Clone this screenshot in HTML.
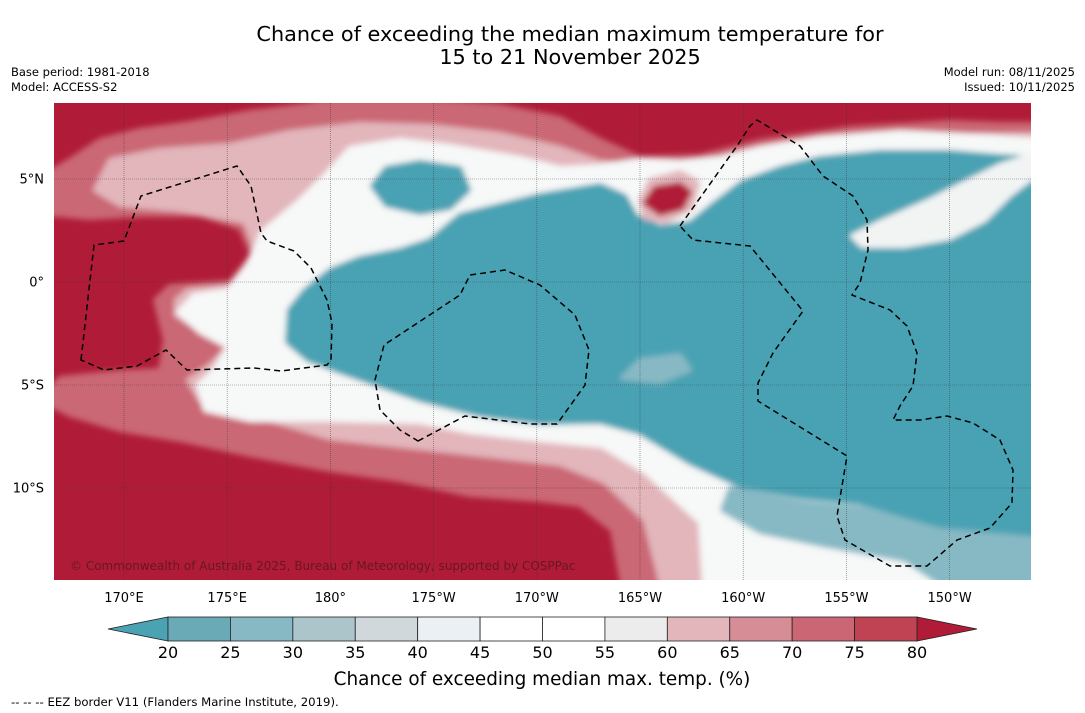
<!DOCTYPE html>
<html><head><meta charset="utf-8"><style>
html,body{margin:0;padding:0;background:#fff;}
svg{display:block;font-family:"DejaVu Sans","Liberation Sans",sans-serif;}
</style></head><body>
<svg id="chart" width="1085" height="713" viewBox="0 0 1085 713" xmlns="http://www.w3.org/2000/svg">
<defs>
<clipPath id="plotclip"><rect x="54" y="103" width="977" height="477"/></clipPath>
<filter id="soft" x="-5%" y="-5%" width="110%" height="110%"><feGaussianBlur stdDeviation="3"/></filter>
</defs>
<text x="570" y="41" font-size="20.8" text-anchor="middle" fill="#000">Chance of exceeding the median maximum temperature for</text>
<text x="570" y="64" font-size="20.8" text-anchor="middle" fill="#000">15 to 21 November 2025</text>
<text x="11" y="76" font-size="11.5">Base period: 1981-2018</text>
<text x="11" y="91" font-size="11.5">Model: ACCESS-S2</text>
<text x="1075" y="76" font-size="11.5" text-anchor="end">Model run: 08/11/2025</text>
<text x="1075" y="91" font-size="11.5" text-anchor="end">Issued: 10/11/2025</text>
<g id="map" clip-path="url(#plotclip)"></g>
<g id="axes"></g>
<g id="cbar"></g>
<text x="542" y="685" font-size="18.4" text-anchor="middle">Chance of exceeding median max. temp. (%)</text>
<text x="11" y="706" font-size="11.7">--  --  -- EEZ border V11 (Flanders Marine Institute, 2019).</text>
</svg>
<script>
// colorbar data
const levels = [20,25,30,35,40,45,50,55,60,65,70,75,80];
const binColors = ["#6aa9b6","#87b9c4","#abc5cb","#d0d8db","#eaf0f3","#ffffff","#ffffff","#ececec","#e2b6bb","#d78d95","#cb6774","#bf4353"];
const underColor = "#4aa2b3", overColor = "#b01c38";
// axis ticks
const lonTicks = [170,175,180,185,190,195,200,205,210];
const lonLabels = ["170°E","175°E","180°","175°W","170°W","165°W","160°W","155°W","150°W"];
const latTicks = [5,0,-5,-10];
const latLabels = ["5°N","0°","5°S","10°S"];

const NS="http://www.w3.org/2000/svg";
const X0=54,X1=1031,Y0=103,Y1=580;
function lonX(l){return 124+(l-170)*20.64;}
function latY(l){return 282-l*20.6;}
function mk(tag,attrs,parent){const e=document.createElementNS(NS,tag);for(const k in attrs)e.setAttribute(k,attrs[k]);parent.appendChild(e);return e;}
function poly(pts){return 'M'+pts.map(q=>q.join(',')).join('L')+'Z';}
// contour geometry (pixels)
const shapeP75=[[40,215],[40,178],[70,160],[100,140],[140,130],[190,123],[250,112],[300,106],[330,100],[420,100],[500,106],[560,118],[600,140],[640,158],[700,156],[760,141],[850,128],[950,122],[1000,124],[1040,124],[1045,600],[625,600],[612,530],[580,505],[540,500],[470,495],[400,480],[330,470],[250,455],[180,440],[120,430],[70,415],[40,400],[60,378],[120,372],[160,370],[165,340],[155,300],[170,286],[230,282],[252,255],[240,228],[200,215],[140,215],[90,218],[60,215]];
const shapeP65=[[95,190],[110,160],[160,150],[230,145],[290,132],[360,124],[430,126],[500,134],[560,148],[600,162],[650,168],[720,160],[860,138],[1040,134],[1045,600],[665,600],[645,520],[605,482],[560,464],[500,457],[420,448],[330,438],[250,414],[200,400],[188,380],[210,365],[230,345],[200,330],[176,315],[176,300],[188,290],[235,286],[255,250],[245,222],[180,210],[120,205]];
const shapeW=[[178,312],[194,295],[228,290],[248,265],[262,232],[300,200],[328,172],[350,148],[400,140],[450,146],[520,158],[560,168],[600,166],[640,160],[680,162],[720,158],[760,148],[820,138],[900,132],[980,136],[1040,140],[1045,600],[705,600],[700,522],[645,472],[602,446],[540,440],[470,432],[420,422],[330,420],[250,420],[205,410],[198,385],[214,370],[228,347],[200,332]];
const shapeLT=[[730,488],[800,502],[862,508],[942,530],[1040,538],[1045,600],[965,600],[905,560],[822,545],[760,532],[722,510]];
const shapeT=[[287,342],[289,310],[305,290],[330,270],[360,258],[400,250],[430,240],[460,215],[500,205],[540,195],[600,185],[625,196],[636,216],[660,227],[690,223],[712,205],[742,182],[780,168],[820,158],[880,152],[950,152],[1000,156],[1040,158],[1040,535],[940,526],[860,503],[800,497],[740,486],[690,463],[640,433],[600,422],[540,423],[480,415],[420,400],[380,386],[340,372],[308,360]];
const shapeBlob=[[372,186],[386,168],[420,162],[460,168],[469,190],[450,208],[420,213],[386,205]];
const shapeArm=[[852,236],[880,222],[930,200],[970,180],[1000,165],[1040,152],[1040,172],[1010,195],[985,220],[950,238],[905,246],[862,246]];
const shapeRedBlobRing=[[640,200],[650,180],[680,172],[698,182],[692,208],[665,222],[645,218]];
const shapeRedBlob=[[645,203],[655,188],[680,184],[690,192],[682,208],[660,214]];
const shapeLowLT=[[622,378],[640,360],[680,355],[690,370],[660,382]];
const eezPaths=[
 [[81,360],[94,245],[124,241],[141,196],[237,166],[251,186],[261,233],[267,241],[294,251],[311,268],[327,300],[332,323],[331,360],[327,365],[281,371],[254,368],[187,370],[166,350],[137,366],[104,370]],
 [[418,441],[465,416],[530,424],[557,424],[585,385],[589,350],[575,315],[540,285],[505,270],[470,275],[460,295],[384,345],[375,380],[380,410],[400,430]],
 [[680,226],[737,146],[750,126],[757,120],[800,146],[823,176],[853,196],[867,220],[868,250],[860,283],[852,295],[890,310],[907,326],[917,353],[913,386],[900,406],[893,420],[920,420],[947,416],[973,423],[1000,440],[1013,470],[1012,503],[990,528],[957,540],[927,566],[890,566],[845,540],[837,516],[847,456],[758,401],[758,383],[773,353],[803,311],[750,246],[693,240]]
];
const map=document.getElementById('map');
const bg=mk('rect',{x:X0,y:Y0,width:X1-X0,height:Y1-Y0,fill:overColor},map);


const fg=mk('g',{filter:'url(#soft)'},map);


const layers=[[shapeP75,binColors[10],'contour-70-75'],[shapeP65,binColors[8],'contour-60-70'],[shapeW,"#f7f8f8",'contour-40-60'],[shapeLT,binColors[1],'contour-25-35'],[shapeT,underColor,'contour-below-20'],[shapeBlob,underColor,'contour-blob-north'],[shapeArm,"#f2f4f4",'contour-arm'],[shapeRedBlobRing,binColors[8],'contour-pink-ring'],[shapeRedBlob,overColor,'contour-red-blob'],[shapeLowLT,binColors[1],'contour-light-teal-patch']];
layers.forEach(l=>{const p=mk('path',{d:poly(l[0]),fill:l[1],stroke:l[1],'stroke-width':4,'stroke-linejoin':'round'},fg);
 
 });
// grid
lonTicks.forEach(t=>{const g=mk('line',{x1:lonX(t),x2:lonX(t),y1:Y0,y2:Y1,stroke:'#333','stroke-width':0.6,'stroke-dasharray':'1,1','stroke-opacity':0.7},map);
 
 });
latTicks.forEach(t=>{const g=mk('line',{x1:X0,x2:X1,y1:latY(t),y2:latY(t),stroke:'#333','stroke-width':0.6,'stroke-dasharray':'1,1','stroke-opacity':0.7},map);
 
 });
eezPaths.forEach(ps=>{const p=mk('path',{d:poly(ps),fill:'none',stroke:'#000','stroke-width':1.5,'stroke-dasharray':'6,4'},map);
 
 });
const cp=mk('text',{x:70,y:570,'font-size':12,fill:'#5a1520','fill-opacity':0.85},map);


cp.textContent='© Commonwealth of Australia 2025, Bureau of Meteorology, supported by COSPPac';
// axes labels
const axes=document.getElementById('axes');
lonTicks.forEach((t,i)=>{const e=mk('text',{x:lonX(t),y:602,'font-size':13,'text-anchor':'middle'},axes);
 
 
 e.textContent=lonLabels[i];});
latTicks.forEach((t,i)=>{const e=mk('text',{x:44,y:latY(t)+4.5,'font-size':13,'text-anchor':'end'},axes);
 
 
 e.textContent=latLabels[i];});
// colorbar
const cb=document.getElementById('cbar');
const CX0=168,CX1=917,CY0=617,CY1=641,CM=(CY0+CY1)/2;
function cX(v){return CX0+(v-levels[0])/(levels[levels.length-1]-levels[0])*(CX1-CX0);}
const lt=mk('polygon',{points:`108,${CM} ${CX0},${CY0} ${CX0},${CY1}`,fill:underColor,stroke:'#222','stroke-width':0.8},cb);


const rt=mk('polygon',{points:`977,${CM} ${CX1},${CY0} ${CX1},${CY1}`,fill:overColor,stroke:'#222','stroke-width':0.8},cb);


binColors.forEach((c,i)=>{const r=mk('rect',{x:cX(levels[i]),y:CY0,width:cX(levels[i+1])-cX(levels[i]),height:CY1-CY0,fill:c,stroke:'#222','stroke-width':0.8},cb);
 
 });
levels.forEach(v=>{const e=mk('text',{x:cX(v),y:658,'font-size':16,'text-anchor':'middle'},cb);
 
 
 e.textContent=v;});
</script>
</body></html>
